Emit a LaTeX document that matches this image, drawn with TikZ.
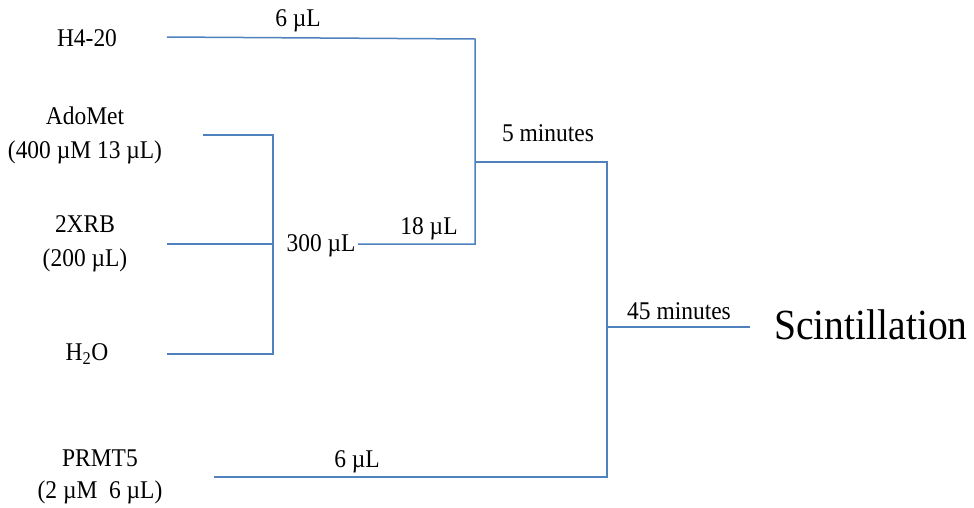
\documentclass[tikz,border=0pt]{standalone}
\usepackage{fontspec}
\setmainfont[FakeStretch=0.92]{Liberation Serif}
\definecolor{lineblue}{RGB}{79,129,189}
\begin{document}
\begin{tikzpicture}[x=1pt,y=-1pt,
  lbl/.style={font=\fontsize{25.5}{34}\selectfont, inner sep=0pt, align=center},
  big/.style={font=\fontsize{43}{48}\selectfont, inner sep=0pt},
  conn/.style={draw=lineblue, line width=1.5pt}]
\useasboundingbox (0,0) rectangle (974,507);
% input labels
\node[lbl] (h4) at (87,38) {H4-20};
\node[lbl] (ado) at (85,135) {AdoMet\\(400 µM 13 µL)};
\node[lbl] (xrb) at (85,244) {2XRB\\(200 µL)};
\node[lbl] (h2o) at (87,354) {H\textsubscript{2}O};
\node[lbl] (prmt) at (100,477) {PRMT5\\[-2pt](2 µM\ \ 6 µL)};
\node[big] (scint) at (871,325) {Scintillation};
% quantity labels
\node[lbl] (q6a) at (298,21) {6 µL};
\node[lbl] (q300) at (321,246) {300 µL};
\node[lbl] (q18) at (429,229) {18 µL};
\node[lbl] (t5) at (548,133) {5 minutes};
\node[lbl] (t45) at (679,311) {45 minutes};
\node[lbl] (q6b) at (357,462) {6 µL};
% junction coordinates
\coordinate (h4e) at (167,37);
\coordinate (j1t) at (475,39);
\coordinate (j1b) at (475,244);
\coordinate (j1m) at (475,162);
\coordinate (adoe) at (203,135);
\coordinate (xrbe) at (167,244);
\coordinate (h2oe) at (167,354);
\coordinate (j0t) at (273,135);
\coordinate (j0m) at (273,244);
\coordinate (j0b) at (273,354);
\coordinate (m300) at (358,244);
\coordinate (j2t) at (607,162);
\coordinate (j2m) at (607,327);
\coordinate (j2b) at (607,477);
\coordinate (prmte) at (214,477);
\coordinate (oute) at (750,327);
% connectors
\draw[conn] (h4e) -- (j1t) -- (j1b) -- (m300);
\draw[conn] (adoe) -- (j0t) -- (j0b) -- (h2oe);
\draw[conn] (xrbe) -- (j0m);
\draw[conn] (j1m) -- (j2t) -- (j2b) -- (prmte);
\draw[conn] (j2m) -- (oute);
\end{tikzpicture}
\end{document}
